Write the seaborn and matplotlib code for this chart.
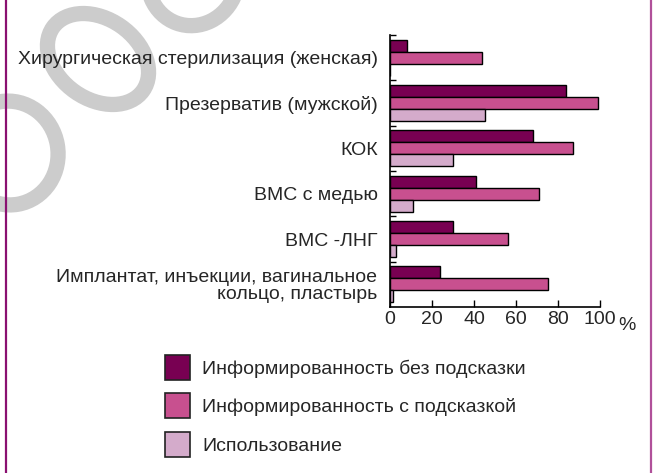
import matplotlib
matplotlib.use("Agg")
import matplotlib.pyplot as plt
import matplotlib.transforms as mtransforms
import seaborn as sns
import pandas as pd
import numpy as np
from matplotlib.patches import Patch, Ellipse
from matplotlib.lines import Line2D

categories = [
    "Хирургическая стерилизация (женская)",
    "Презерватив (мужской)",
    "КОК",
    "ВМС с медью",
    "ВМС -ЛНГ",
    "Имплантат, инъекции, вагинальное\nкольцо, пластырь",
]
series_names = [
    "Информированность без подсказки",
    "Информированность с подсказкой",
    "Использование",
]
unprompted = [8, 84, 68, 41, 30, 24]
prompted = [44, 99, 87, 71, 56, 75]
usage = [0, 45, 30, 11, 3, 1.3]
x_ticks = [0, 20, 40, 60, 80, 100]
colors = ["#780052", "#c8508f", "#d4abcb"]

sns.set_theme(style="white")
plt.rcParams["font.family"] = ["Liberation Sans", "DejaVu Sans"]

df = pd.DataFrame({
    "cat": categories * 3,
    "series": sum([[s] * len(categories) for s in series_names], []),
    "value": unprompted + prompted + usage,
})

W, H = 653, 473
FS = 14
fig = plt.figure(figsize=(W / 100, H / 100), dpi=100)
fig.patch.set_facecolor("white")

# decorative grey rings, in pixel coordinates (y measured from top)
ident = mtransforms.IdentityTransform()
def ring(cx, cy, w, h, ang, lw=11):
    e = Ellipse((cx, H - cy), w, h, angle=ang, fill=False,
                edgecolor="#cccccc", linewidth=lw, transform=ident, zorder=0)
    fig.add_artist(e)

ring(98, 59, 110, 80, -35)
ring(193, -22, 90, 96, -20)
ring(9, 153, 98, 104, 10)

ax = fig.add_axes([390 / W, 1 - 307 / H, 210 / W, 272 / H])
ax.patch.set_alpha(0)
sns.barplot(data=df, y="cat", x="value", hue="series", order=categories,
            hue_order=series_names, palette=colors, orient="h", width=0.8,
            edgecolor="black", linewidth=1, saturation=1, ax=ax, legend=False)

ax.set_xlim(0, 100)
ax.set_ylim(5.5, -0.5)
ax.set_xticks(x_ticks)
ax.set_xticklabels([str(t) for t in x_ticks], fontsize=FS)
ax.set_xlabel("")
ax.set_ylabel("")
ax.set_yticks(range(len(categories)))
ax.set_yticklabels(categories, fontsize=FS, linespacing=0.95)
ax.set_yticks(np.arange(-0.5, 5.0, 1.0), minor=True)
ax.tick_params(axis="y", which="major", length=0, pad=9)
ax.tick_params(axis="y", which="minor", direction="in", length=4, width=1, color="black", left=True)
ax.tick_params(axis="x", which="major", direction="in", length=5, width=1, color="black", bottom=True, pad=3)
for s in ["top", "right"]:
    ax.spines[s].set_visible(False)
for s in ["left", "bottom"]:
    ax.spines[s].set_color("black")
    ax.spines[s].set_linewidth(1.2)

fig.text(627 / W, 1 - 325 / H, "%", fontsize=FS, ha="center", va="center")

handles = [Patch(facecolor=c, edgecolor="#222222", linewidth=1.2) for c in colors]
fig.legend(handles, series_names, loc="upper left",
           bbox_to_anchor=(165 / W, 1 - 355 / H), frameon=False, fontsize=FS,
           handlelength=1.29, handleheight=1.60, handletextpad=0.62,
           labelspacing=0.69, borderpad=0, borderaxespad=0)

# side frame lines
fig.add_artist(Line2D([6 / W, 6 / W], [0, 1], color="#8a1070", linewidth=1.6, transform=fig.transFigure))
fig.add_artist(Line2D([651 / W, 651 / W], [0, 1], color="#b0509a", linewidth=1.6, transform=fig.transFigure))

fig.savefig("out.png", dpi=100, facecolor="white")
